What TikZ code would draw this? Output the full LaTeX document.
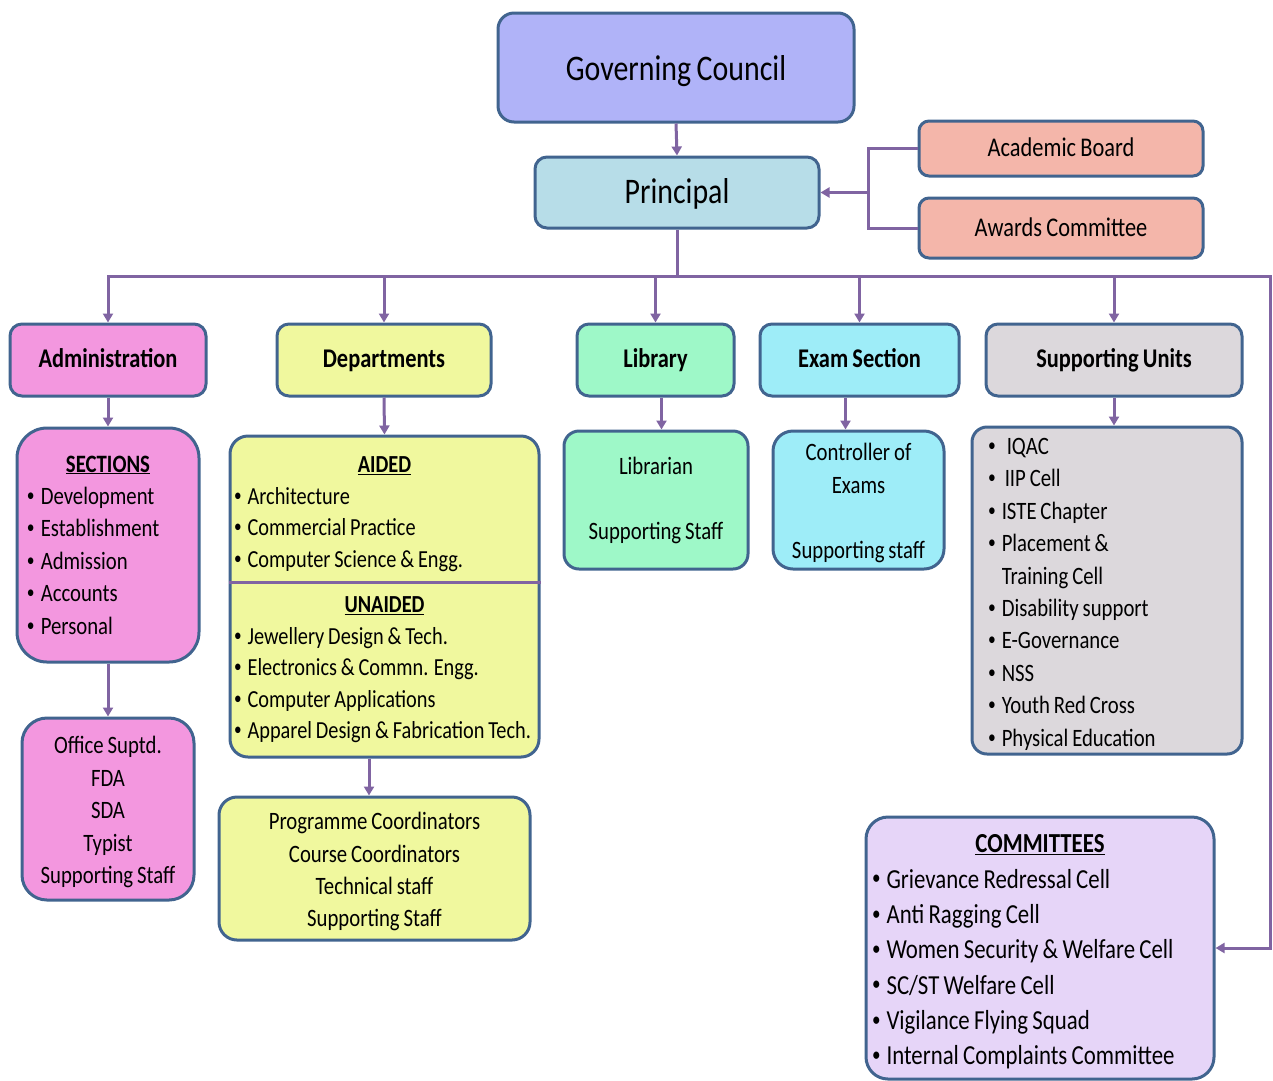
\documentclass[tikz,border=0pt]{standalone}
\usepackage{fontspec}
\setmainfont{Carlito}[FakeStretch=0.83, WordSpace=0.83]
\usetikzlibrary{arrows.meta}

\definecolor{boxline}{HTML}{41648F}
\definecolor{linkc}{HTML}{8064A2}
\definecolor{govc}{HTML}{B0B3F8}
\definecolor{princ}{HTML}{B7DDE8}
\definecolor{boardc}{HTML}{F4B6AA}
\definecolor{adminc}{HTML}{F397DF}
\definecolor{deptc}{HTML}{F0F89E}
\definecolor{libc}{HTML}{9EF8C8}
\definecolor{examc}{HTML}{9EEDF8}
\definecolor{suppc}{HTML}{DCD8DC}
\definecolor{commc}{HTML}{E6D5F8}

\tikzset{
  box/.style={draw=boxline, line width=3pt, rounded corners=12pt, inner sep=0pt, align=center},
  head/.style={box, minimum height=72pt, text height=18pt, text depth=4pt, font=\fontsize{27}{32}\selectfont\bfseries},
  list/.style={align=flush left},
  link/.style={draw=linkc, line width=3pt},
  conn/.style={link, -{Triangle[length=9pt,width=10pt]}},
}
\newcommand{\itm}{\raisebox{0.12em}{\scalebox{0.75}{\textbullet}}\hspace{6pt}}
\newcommand{\ttl}[1]{\makebox[\hsize]{\underline{\textbf{#1}}}}
\newcommand{\topstrut}{\rule{0pt}{0.95em}}

\begin{document}
\begin{tikzpicture}[x=1pt, y=-1pt]
\useasboundingbox (0,0) rectangle (1273,1080);

% top
\node[box, fill=govc, rounded corners=16pt, minimum width=356pt, minimum height=109pt, text height=25pt, text depth=0pt, font=\fontsize{36}{40}\selectfont] (gc) at (676,67.5) {Governing Council};
\node[box, fill=princ, minimum width=284pt, minimum height=71pt, text height=25pt, text depth=4pt, font=\fontsize{36}{40}\selectfont] (prin) at (677,192.5) {Principal};
\node[box, fill=boardc, rounded corners=10pt, minimum width=284pt, minimum height=55pt, text height=19pt, text depth=3pt, font=\fontsize{27}{32}\selectfont] (acad) at (1061,148.5) {Academic Board};
\node[box, fill=boardc, rounded corners=10pt, minimum width=284pt, minimum height=60pt, text height=19pt, text depth=2pt, font=\fontsize{27}{32}\selectfont] (award) at (1061,228) {Awards Committee};

% second row
\node[head, fill=adminc, minimum width=196pt] (admin) at (108,360) {Administration};
\node[head, fill=deptc, minimum width=214pt] (dept) at (384,360) {Departments};
\node[head, fill=libc, minimum width=157pt] (lib) at (655.5,360) {Library};
\node[head, fill=examc, minimum width=199pt] (exam) at (859.5,360) {Exam Section};
\node[head, fill=suppc, minimum width=256pt] (supp) at (1114,360) {Supporting Units};

% administration
\node[box, list, fill=adminc, rounded corners=30pt, minimum width=182pt, minimum height=234pt, text width=162pt, font=\fontsize{25}{32.4}\selectfont] (sect) at (108,545)
  {\ttl{SECTIONS}\\ \itm Development\\ \itm Establishment\\ \itm Admission\\ \itm Accounts\\ \itm Personal};
\node[box, fill=adminc, rounded corners=25pt, minimum width=172pt, minimum height=182pt, font=\fontsize{25}{32.5}\selectfont] (office) at (108,809)
  {\topstrut Office Suptd.\\ FDA\\ SDA\\ Typist\\ Supporting Staff};

% departments
\node[box, fill=deptc, rounded corners=18pt, minimum width=309pt, minimum height=321pt] (dlist) at (384.5,596.5) {};
\node[list, text width=301pt, inner sep=0pt, font=\fontsize{24.5}{31.5}\selectfont] (aided) at (384.5,514)
  {\ttl{AIDED}\\ \itm Architecture\\ \itm Commercial Practice\\ \itm Computer Science \& Engg.};
\node[list, text width=301pt, inner sep=0pt, font=\fontsize{24.5}{31.5}\selectfont] (unaided) at (384.5,670)
  {\ttl{UNAIDED}\\ \itm Jewellery Design \& Tech.\\ \itm Electronics \& Commn. Engg.\\ \itm Computer Applications\\ \itm Apparel Design \& Fabrication Tech.};
\draw[link] ([yshift=14.5pt]dlist.west) -- ([yshift=14.5pt]dlist.east);
\node[box, fill=deptc, rounded corners=18pt, minimum width=311pt, minimum height=143pt, font=\fontsize{25}{32.3}\selectfont] (prog) at (374.5,868.5)
  {\topstrut Programme Coordinators\\ Course Coordinators\\ Technical staff\\ Supporting Staff};

% library and exams
\node[box, fill=libc, rounded corners=15pt, minimum width=184pt, minimum height=138pt, font=\fontsize{25}{32.5}\selectfont] (libr) at (656,500)
  {Librarian\\[32.5pt] Supporting Staff};
\node[box, fill=examc, rounded corners=20pt, minimum width=171pt, minimum height=138pt, font=\fontsize{25}{32.5}\selectfont] (ctrl) at (858.5,500)
  {\topstrut Controller of\\ Exams\\[32.5pt] Supporting staff};

% supporting units
\node[box, list, fill=suppc, rounded corners=15pt, minimum width=270pt, minimum height=327pt, text width=238pt, font=\fontsize{25}{32.4}\selectfont] (slist) at (1107,590.5)
  {\topstrut\itm\hspace{5pt}IQAC\\ \itm\hspace{3pt}IIP Cell\\ \itm ISTE Chapter\\ \itm Placement \&\\ \phantom{\itm}Training Cell\\ \itm Disability support\\ \itm E-Governance\\ \itm NSS\\ \itm Youth Red Cross\\ \itm Physical Education};

% committees
\node[box, list, fill=commc, rounded corners=22pt, minimum width=348pt, minimum height=262pt, text width=336pt, font=\fontsize{27.5}{35.3}\selectfont] (comm) at (1040,948)
  {\topstrut\ttl{COMMITTEES}\\ \itm Grievance Redressal Cell\\ \itm Anti Ragging Cell\\ \itm Women Security \& Welfare Cell\\ \itm SC/ST Welfare Cell\\ \itm Vigilance Flying Squad\\ \itm Internal Complaints Committee};

% connectors
\coordinate (brk) at (868,188);
\coordinate (bus) at (677,276);
\coordinate (rc) at (1270,276);

\draw[conn] (gc.south) -- (prin.north);
\draw[link] (acad.west) -| (brk) |- (award.west);
\draw[conn] (brk |- prin.east) -- (prin.east);
\draw[link] (prin.south) -- (bus);
\foreach \n in {admin,dept,lib,exam,supp}
  \draw[conn] (bus) -| (\n.north);
\draw[conn] (bus) -- (rc) |- (comm.east);

\draw[conn] (admin.south) -- (sect.north);
\draw[conn] (sect.south) -- (office.north);
\draw[conn] (dept.south) -- (dlist.north);
\draw[conn] ([xshift=-15.5pt]dlist.south) -- ([xshift=-15.5pt]dlist.south |- prog.north);
\draw[conn] ([xshift=6pt]lib.south) -- ([xshift=6pt]lib.south |- libr.north);
\draw[conn] ([xshift=-14pt]exam.south) -- ([xshift=-14pt]exam.south |- ctrl.north);
\draw[conn] (supp.south) -- (supp.south |- slist.north);
\end{tikzpicture}
\end{document}
